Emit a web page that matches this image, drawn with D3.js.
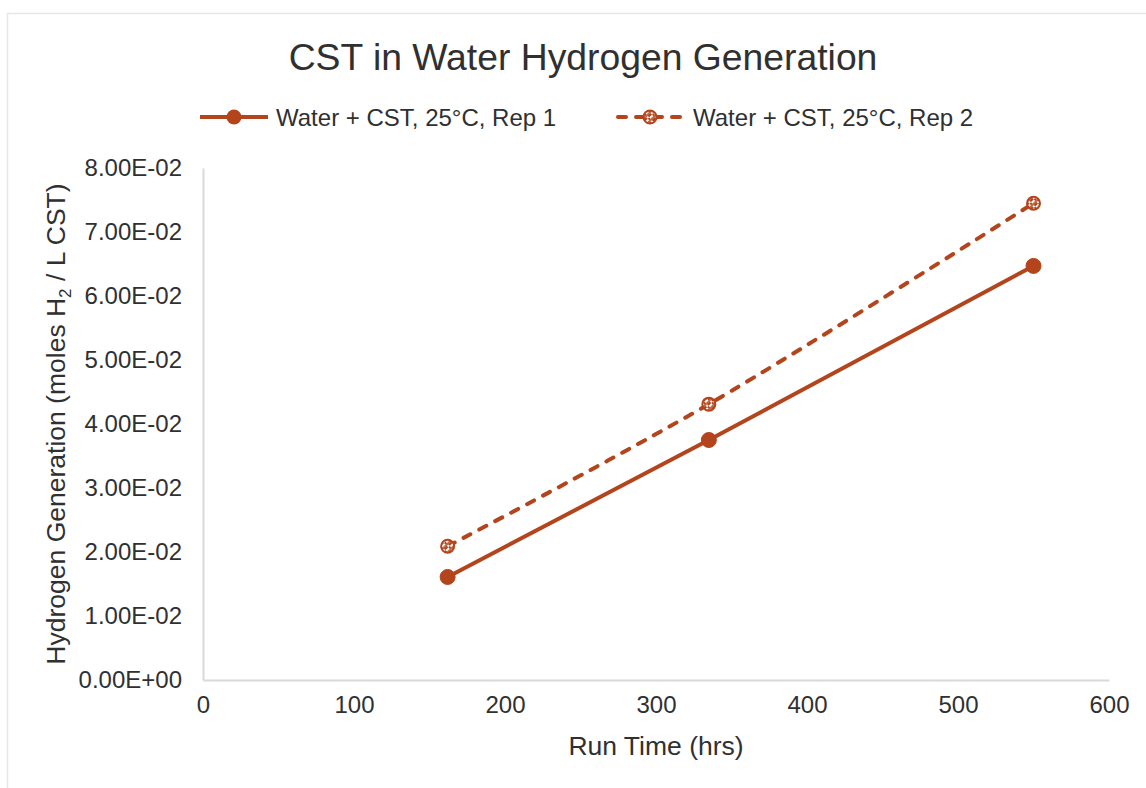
<!DOCTYPE html>
<html>
<head>
<meta charset="utf-8">
<script src="https://cdn.jsdelivr.net/npm/d3@7"></script>
<style>
  html, body { margin: 0; padding: 0; background: #fff; }
  svg { display: block; font-family: "Liberation Sans", Arial, sans-serif; }
</style>
</head>
<body>
<svg id="chart" width="1146" height="788"></svg>
<script>
// ---- data ----
const title = "CST in Water Hydrogen Generation";
const xTitle = "Run Time (hrs)";
const seriesNames = ["Water + CST, 25°C, Rep 1", "Water + CST, 25°C, Rep 2"];
const runTimes = [162, 335, 550];
const rep1 = [0.0161, 0.0375, 0.0647];
const rep2 = [0.0209, 0.0431, 0.0745];
const xTicks = [0, 100, 200, 300, 400, 500, 600];
const yTicks = [0, 0.01, 0.02, 0.03, 0.04, 0.05, 0.06, 0.07, 0.08];
const yTickLabels = ["0.00E+00", "1.00E-02", "2.00E-02", "3.00E-02", "4.00E-02", "5.00E-02", "6.00E-02", "7.00E-02", "8.00E-02"];

// ---- layout ----
const color = "#B3441B";
const textColor = "#303030";
const axisColor = "#d9d9d9";
const plot = { left: 203, right: 1109, top: 168, bottom: 680 };

const svg = d3.select("#chart");

// outer chart border
svg.append("rect")
  .attr("x", 7.5).attr("y", 13.5)
  .attr("width", 1160).attr("height", 800)
  .attr("fill", "#fff").attr("stroke", "#e6e6e6").attr("stroke-width", 1.5);

const x = d3.scaleLinear().domain([0, 600]).range([plot.left, plot.right]);
const y = d3.scaleLinear().domain([0, 0.08]).range([plot.bottom, plot.top]);

// pattern for hatched marker (diagonal checkered band)
const defs = svg.append("defs");
const pat = defs.append("pattern")
  .attr("id", "hatch")
  .attr("patternUnits", "userSpaceOnUse")
  .attr("width", 6).attr("height", 6)
  .attr("patternTransform", "rotate(-45)");
pat.append("rect").attr("width", 6).attr("height", 6).attr("fill", "#fff");
pat.append("rect").attr("x", 0).attr("y", 0).attr("width", 2).attr("height", 2).attr("fill", color);
pat.append("rect").attr("x", 2).attr("y", 2).attr("width", 2).attr("height", 2).attr("fill", color);
pat.append("rect").attr("x", 4).attr("y", 0).attr("width", 2).attr("height", 2).attr("fill", color);
pat.append("rect").attr("x", 0).attr("y", 4).attr("width", 6).attr("height", 2).attr("fill", color).attr("opacity", 0.8);

// axes
const xAxis = d3.axisBottom(x).tickValues(xTicks).tickSize(0).tickPadding(16).tickFormat(d3.format("d"));
const gx = svg.append("g").attr("transform", `translate(0,${plot.bottom})`).call(xAxis);
gx.select(".domain").attr("stroke", axisColor).attr("stroke-width", 2);
gx.selectAll("text").attr("font-size", 24).attr("fill", textColor).attr("font-family", "Liberation Sans, Arial, sans-serif");

const yAxis = d3.axisLeft(y).tickValues(yTicks).tickSize(0).tickPadding(21)
  .tickFormat((d, i) => yTickLabels[i]);
const gy = svg.append("g").attr("transform", `translate(${plot.left},0)`).call(yAxis);
gy.select(".domain").attr("stroke", axisColor).attr("stroke-width", 2);
gy.selectAll("text").attr("font-size", 24).attr("fill", textColor).attr("font-family", "Liberation Sans, Arial, sans-serif");

// axis titles
svg.append("text")
  .attr("x", (plot.left + plot.right) / 2).attr("y", 755)
  .attr("text-anchor", "middle").attr("font-size", 26.5).attr("fill", textColor)
  .text(xTitle);

const yt = svg.append("text")
  .attr("transform", `translate(65,${(plot.top + plot.bottom) / 2}) rotate(-90)`)
  .attr("text-anchor", "middle").attr("font-size", 26.5).attr("fill", textColor);
yt.append("tspan").text("Hydrogen Generation (moles H");
yt.append("tspan").attr("font-size", 17).attr("dy", 6).text("2");
yt.append("tspan").attr("dy", -6).text(" / L CST)");

// title
svg.append("text")
  .attr("x", 583).attr("y", 70)
  .attr("text-anchor", "middle").attr("font-size", 37.3).attr("fill", textColor)
  .text(title);

// lines
const pts1 = runTimes.map((t, i) => [t, rep1[i]]);
const pts2 = runTimes.map((t, i) => [t, rep2[i]]);

const line1 = d3.line().x(d => x(d[0])).y(d => y(d[1]));
const line2 = d3.line().x(d => x(d[0])).y(d => y(d[1])).curve(d3.curveCatmullRom.alpha(0.5));

svg.append("path").datum(pts2).attr("d", line2)
  .attr("fill", "none").attr("stroke", color).attr("stroke-width", 4)
  .attr("stroke-dasharray", "8,10").attr("stroke-linecap", "round");

svg.append("path").datum(pts1).attr("d", line1)
  .attr("fill", "none").attr("stroke", color).attr("stroke-width", 4);

svg.append("g").selectAll("circle").data(pts1).join("circle")
  .attr("cx", d => x(d[0])).attr("cy", d => y(d[1])).attr("r", 7.5)
  .attr("fill", color).attr("stroke", color).attr("stroke-width", 1);

svg.append("g").selectAll("circle").data(pts2).join("circle")
  .attr("cx", d => x(d[0])).attr("cy", d => y(d[1])).attr("r", 6.5)
  .attr("fill", "url(#hatch)").attr("stroke", color).attr("stroke-width", 2);

// legend
const leg1 = svg.append("g");
leg1.append("line").attr("x1", 200).attr("x2", 268).attr("y1", 117).attr("y2", 117)
  .attr("stroke", color).attr("stroke-width", 4);
leg1.append("circle").attr("cx", 234).attr("cy", 117).attr("r", 7.5).attr("fill", color);
leg1.append("text").attr("x", 276).attr("y", 126).attr("font-size", 24).attr("fill", textColor).text(seriesNames[0]);

const leg2 = svg.append("g");
leg2.append("line").attr("x1", 618).attr("x2", 684).attr("y1", 117).attr("y2", 117)
  .attr("stroke", color).attr("stroke-width", 4)
  .attr("stroke-dasharray", "8,10").attr("stroke-linecap", "round");
leg2.append("circle").attr("cx", 650).attr("cy", 117).attr("r", 6.5)
  .attr("fill", "url(#hatch)").attr("stroke", color).attr("stroke-width", 2);
leg2.append("text").attr("x", 693).attr("y", 126).attr("font-size", 24).attr("fill", textColor).text(seriesNames[1]);
</script>
</body>
</html>
